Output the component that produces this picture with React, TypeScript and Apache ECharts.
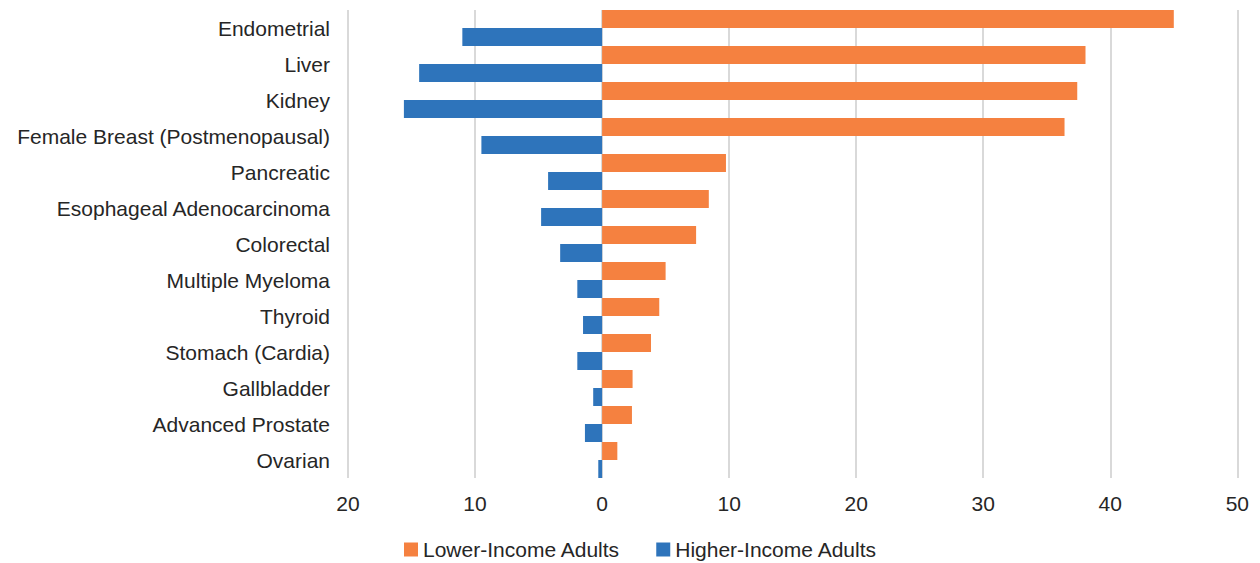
import React, { useEffect, useRef } from "react";
import * as echarts from "echarts";

const categories = [
  "Endometrial",
  "Liver",
  "Kidney",
  "Female Breast (Postmenopausal)",
  "Pancreatic",
  "Esophageal Adenocarcinoma",
  "Colorectal",
  "Multiple Myeloma",
  "Thyroid",
  "Stomach (Cardia)",
  "Gallbladder",
  "Advanced Prostate",
  "Ovarian",
];

const lowerIncome = [45.0, 38.05, 37.4, 36.4, 9.75, 8.4, 7.4, 5.0, 4.5, 3.85, 2.4, 2.35, 1.2];
const higherIncome = [-11.0, -14.4, -15.6, -9.5, -4.25, -4.8, -3.3, -1.95, -1.5, -1.95, -0.7, -1.35, -0.3];

const xMin = -20;
const xMax = 50;
const xInterval = 10;

export default function App() {
  const ref = useRef<HTMLDivElement>(null);
  useEffect(() => {
    if (!ref.current) return;
    const chart = echarts.init(ref.current, undefined, { renderer: "svg" });
    const font = "'Liberation Sans', Arial, sans-serif";
    chart.setOption({
      animation: false,
      textStyle: { fontFamily: font },
      grid: { left: 340, right: 14, top: 2, bottom: 85, containLabel: false },
      legend: {
        top: 526,
        left: 391,
        itemWidth: 14,
        itemHeight: 14,
        itemGap: 36,
        icon: "rect",
        textStyle: { fontSize: 21, color: "#262626", fontFamily: font },
        data: ["Lower-Income Adults", "Higher-Income Adults"],
      },
      xAxis: {
        type: "value",
        min: xMin,
        max: xMax,
        interval: xInterval,
        axisLine: { show: false },
        axisTick: { show: false },
        axisLabel: {
          fontSize: 21,
          color: "#262626",
          margin: 15,
          formatter: (v: number) => String(Math.abs(v)),
        },
        splitLine: { show: true, lineStyle: { color: "#D9D9D9", width: 2 } },
      },
      yAxis: {
        type: "category",
        data: categories,
        inverse: true,
        axisLine: { show: false },
        axisTick: { show: false },
        axisLabel: { fontSize: 21, color: "#262626", margin: 18 },
      },
      series: [
        {
          name: "Lower-Income Adults",
          type: "bar",
          data: lowerIncome,
          itemStyle: { color: "#F58140" },
          barGap: "0%",
          barCategoryGap: "0%",
        },
        {
          name: "Higher-Income Adults",
          type: "bar",
          data: higherIncome,
          itemStyle: { color: "#2E74BB" },
          barGap: "0%",
          barCategoryGap: "0%",
        },
      ],
    });
    return () => chart.dispose();
  }, []);
  return <div ref={ref} style={{ width: 1244, height: 555 }} />;
}
